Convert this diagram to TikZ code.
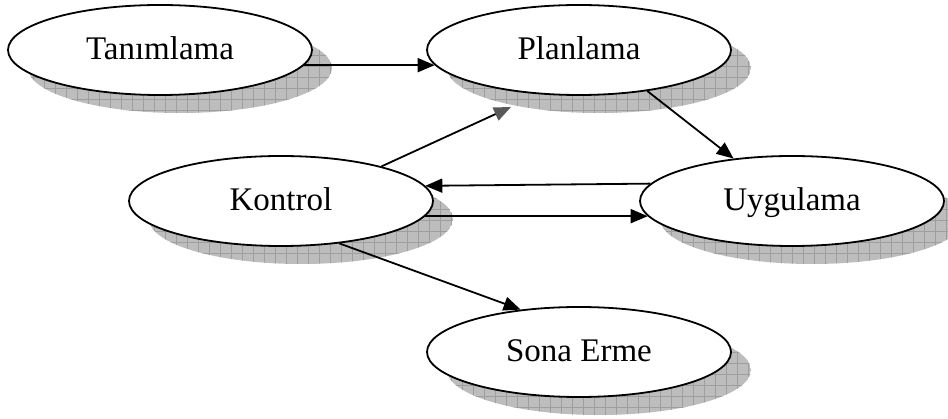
\documentclass[tikz,border=0pt]{standalone}
\usepackage{fontspec}
\setmainfont{Liberation Serif}
\usetikzlibrary{arrows.meta,shapes.geometric}
\newcommand\stageshadow[2]{%
  \begin{scope}
    \clip (#1,#2) ellipse [x radius=152pt, y radius=45pt];
    \fill[gray!52] (#1,#2) ellipse [x radius=152pt, y radius=45pt];
    \foreach \i in {0,11,...,950} \draw[black!38,line width=0.8pt] (\i,0) -- (\i,419);
    \foreach \j in {0,11,...,420} \draw[black!38,line width=0.8pt] (0,\j) -- (948,\j);
  \end{scope}}
\begin{document}
\begin{tikzpicture}[x=1pt,y=-1pt,
  stage/.style={ellipse,draw=black,line width=1.8pt,fill=white,
    minimum width=304pt,minimum height=90pt,inner sep=0pt,
    font=\fontsize{33}{40}\selectfont,text height=22pt,text depth=2pt},
  conn/.style={line width=1.8pt,-{Triangle[length=17pt,width=14pt]}},
  connhid/.style={line width=1.8pt,-{Triangle[length=17pt,width=14pt,color=black!65]}}]
\useasboundingbox[fill=white] (0,0) rectangle (948,419);
% shadows
\stageshadow{180}{68}
\stageshadow{599}{68}
\stageshadow{301}{219}
\stageshadow{812}{219}
\stageshadow{599}{370}
% stages
\node[stage] (tan) at (160,50) {Tanımlama};
\node[stage] (plan) at (579,50) {Planlama};
\node[stage] (kon) at (281,201) {Kontrol};
\node[stage] (uyg) at (792,201) {Uygulama};
\node[stage] (sona) at (579,352) {Sona Erme};
\coordinate (plin) at (511,107);
% connectors
\draw[conn] (tan.-6) -- (plan.186);
\draw[connhid] (kon.19) -- (plin);
\draw[conn] (plan.-31) -- (uyg.144.6);
\draw[conn] (uyg.173.6) -- (kon.6.4);
\draw[conn] (kon.-6.4) -- (uyg.186.4);
\draw[conn] (kon.-36.7) -- (sona.144.2);
\end{tikzpicture}
\end{document}
